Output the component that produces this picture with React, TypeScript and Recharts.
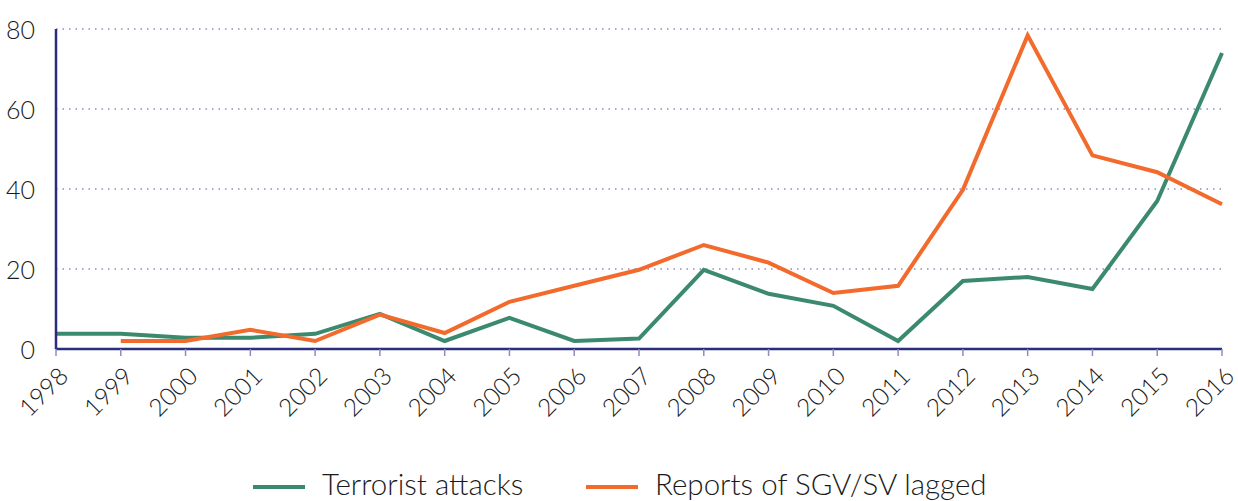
import React from 'react';
import { LineChart, Line, XAxis, YAxis, CartesianGrid, Legend } from 'recharts';

const years = ['1998','1999','2000','2001','2002','2003','2004','2005','2006','2007','2008','2009','2010','2011','2012','2013','2014','2015','2016'];
const terrorist = [3.8, 3.8, 2.8, 2.8, 3.8, 8.8, 2, 7.8, 2, 2.6, 19.8, 13.8, 10.8, 2, 17, 18, 15, 37, 74];
const reports: (number | null)[] = [null, 2, 2, 4.8, 2, 8.6, 4, 11.8, 15.8, 19.8, 26, 21.6, 14, 15.8, 39.8, 78.4, 48.4, 44.2, 36.2];
const yTicks = [0, 20, 40, 60, 80];

const data = years.map((y, i) => ({ year: y, terrorist: terrorist[i], reports: reports[i] }));

const GREEN = '#3b8a6e';
const ORANGE = '#f26a2c';
const AXIS = '#2b2e7c';
const FONT = 'Lato, "Open Sans", sans-serif';

const XTick = (props: any) => {
  const { x, y, payload } = props;
  return (
    <g transform={`translate(${x + 7},${y + 13})`}>
      <text transform="rotate(-45)" textAnchor="end" dominantBaseline="central" fontSize={24.5} fill="#1a1a1a" fontFamily={FONT} fontWeight={300}>
        {payload.value}
      </text>
    </g>
  );
};

const YTick = (props: any) => {
  const { x, y, payload } = props;
  return (
    <text x={x + 3} y={y} textAnchor="end" dominantBaseline="central" fontSize={25} fill="#1a1a1a" fontFamily={FONT} fontWeight={300}>
      {payload.value}
    </text>
  );
};

const LegendContent = () => (
  <div style={{ position: 'relative', width: 1238, height: 40, fontFamily: FONT, fontSize: 29.5, fontWeight: 300, color: '#1a1a1a' }}>
    <div style={{ position: 'absolute', left: 253, top: 24, width: 52, height: 4, background: GREEN }} />
    <div style={{ position: 'absolute', left: 322, top: 5, lineHeight: '36px', whiteSpace: 'nowrap' }}>Terrorist attacks</div>
    <div style={{ position: 'absolute', left: 586, top: 24, width: 52, height: 4, background: ORANGE }} />
    <div style={{ position: 'absolute', left: 655, top: 5, lineHeight: '36px', whiteSpace: 'nowrap' }}>Reports of SGV/SV lagged</div>
  </div>
);

export default function App() {
  return (
    <div style={{ position: 'absolute', left: 0, top: 0, width: 1238, height: 501, overflow: 'hidden', background: '#fff' }}>
      <LineChart width={1238} height={501} data={data} margin={{ top: 29, right: 16, left: 0, bottom: 0 }}>
        <CartesianGrid horizontal={true} vertical={false} stroke="#8c8cc4" strokeDasharray="1.5 5" strokeWidth={1.5} />
        <XAxis
          dataKey="year"
          tick={<XTick />}
          tickLine={{ stroke: '#8c8cc4', strokeWidth: 1.5 }}
          tickSize={7}
          axisLine={{ stroke: AXIS, strokeWidth: 2.5 }}
          interval={0}
          height={112}
          padding={{ left: 0, right: 0 }}
        />
        <YAxis
          domain={[0, 80]}
          ticks={yTicks}
          tick={<YTick />}
          tickLine={false}
          axisLine={{ stroke: AXIS, strokeWidth: 2.5 }}
          width={56}
          tickMargin={18}
        />
        <Legend verticalAlign="bottom" height={40} content={<LegendContent />} />
        <Line type="linear" dataKey="terrorist" stroke={GREEN} strokeWidth={4} dot={false} isAnimationActive={false} />
        <Line type="linear" dataKey="reports" stroke={ORANGE} strokeWidth={4} dot={false} isAnimationActive={false} connectNulls={false} />
      </LineChart>
    </div>
  );
}
